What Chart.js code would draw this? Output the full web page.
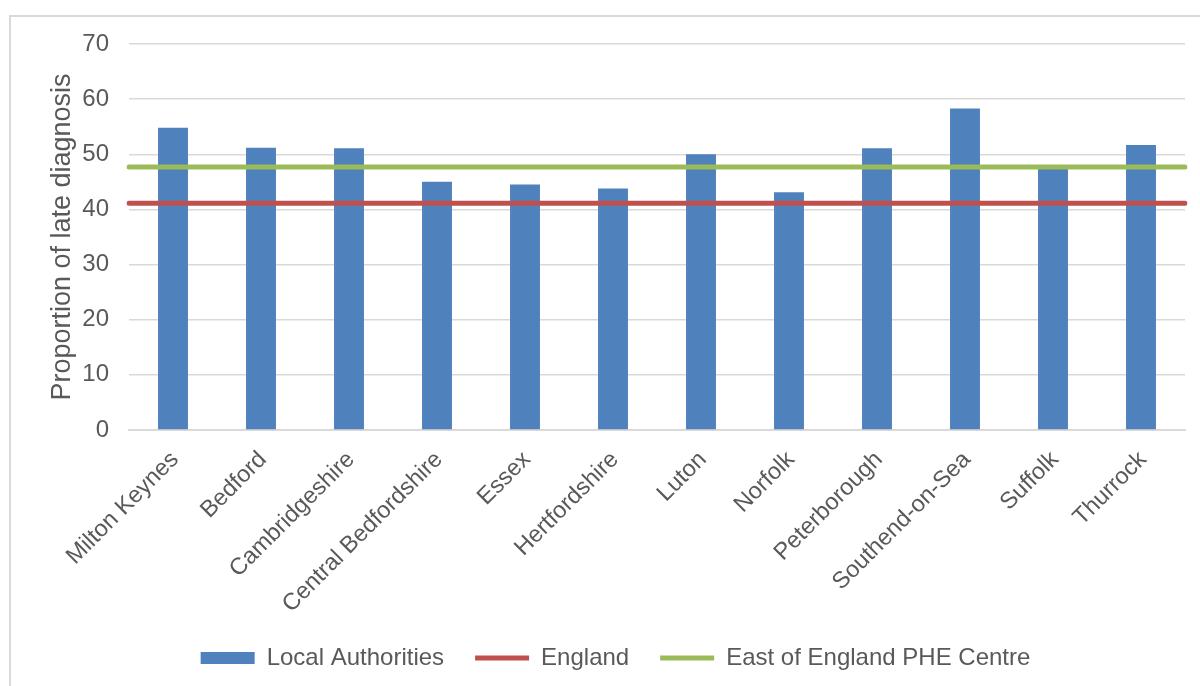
<!DOCTYPE html>
<html>
<head>
<meta charset="utf-8">
<script src="https://cdn.jsdelivr.net/npm/chart.js@4"></script>
<style>
  html, body { margin: 0; padding: 0; background: #fff; overflow: hidden; }
  #wrap { position: relative; width: 1200px; height: 686px; }
  #frame { position: absolute; left: 9px; top: 15px; width: 1300px; height: 800px; border: 2px solid #d9d9d9; box-sizing: border-box; pointer-events: none; }
  canvas { position: absolute; left: 0; top: 0; }
</style>
</head>
<body>
<div id="wrap">
  <canvas id="c" width="1200" height="686"></canvas>
  <div id="frame"></div>
</div>
<script>
const categories = ["Milton Keynes", "Bedford", "Cambridgeshire", "Central Bedfordshire", "Essex", "Hertfordshire", "Luton", "Norfolk", "Peterborough", "Southend-on-Sea", "Suffolk", "Thurrock"];
const localAuthorities = [54.8, 51.2, 51.1, 45.0, 44.5, 43.8, 50.0, 43.1, 51.1, 58.3, 47.7, 51.7];
const englandValue = 41.1;
const eastOfEnglandValue = 47.7;
const england = categories.map(() => englandValue);
const eastOfEngland = categories.map(() => eastOfEnglandValue);
const yTicks = [0, 10, 20, 30, 40, 50, 60, 70];

const textColor = '#595959';
const fontFamily = '"Liberation Sans", Arial, sans-serif';

new Chart(document.getElementById('c'), {
  type: 'bar',
  data: {
    labels: categories,
    datasets: [
      {
        type: 'bar',
        label: 'Local Authorities',
        data: localAuthorities,
        backgroundColor: '#4f81bd',
        borderWidth: 0,
        grouped: false,
        barPercentage: 0.34,
        categoryPercentage: 1.0,
        pointStyle: 'rect',
        order: 2,
        xAxisID: 'x'
      },
      {
        type: 'line',
        label: 'England',
        data: england,
        borderColor: '#c0504d',
        backgroundColor: '#c0504d',
        borderWidth: 5,
        borderCapStyle: 'round',
        pointRadius: 0,
        pointStyle: 'line',
        order: 1,
        xAxisID: 'x2'
      },
      {
        type: 'line',
        label: 'East of England PHE Centre',
        data: eastOfEngland,
        borderColor: '#9bbb59',
        backgroundColor: '#9bbb59',
        borderWidth: 5,
        borderCapStyle: 'round',
        pointRadius: 0,
        pointStyle: 'line',
        order: 0,
        xAxisID: 'x2'
      }
    ]
  },
  options: {
    responsive: false,
    animation: false,
    layout: { padding: { left: 46, top: 44, right: 15, bottom: 6 } },
    plugins: {
      tooltip: { enabled: false },
      legend: {
        position: 'bottom',
        labels: {
          usePointStyle: true,
          pointStyleWidth: 54,
          boxHeight: 12,
          padding: 31,
          color: textColor,
          font: { family: fontFamily, size: 24 },
          sort: (a, b) => a.datasetIndex - b.datasetIndex
        }
      }
    },
    scales: {
      x: {
        type: 'category',
        offset: true,
        grid: { display: false, drawTicks: false },
        border: { display: true, color: '#d9d9d9', width: 2 },
        ticks: {
          autoSkip: false,
          maxRotation: 45,
          minRotation: 45,
          padding: 16,
          labelOffset: 2,
          color: textColor,
          font: { family: fontFamily, size: 23.5 }
        },
        afterFit: (s) => { s.height = 185; }
      },
      x2: {
        type: 'category',
        labels: categories,
        offset: false,
        display: false
      },
      y: {
        min: 0,
        max: 70,
        afterBuildTicks: (s) => { s.ticks = yTicks.map(v => ({ value: v })); },
        grid: { color: '#d9d9d9', lineWidth: 1.5, drawTicks: false },
        border: { display: false },
        ticks: {
          padding: 20,
          color: textColor,
          font: { family: fontFamily, size: 24 }
        },
        title: {
          display: true,
          text: 'Proportion of late diagnosis',
          color: textColor,
          font: { family: fontFamily, size: 27 },
          padding: { top: 0, bottom: 0 }
        },
        afterFit: (s) => { s.width = 83; }
      }
    }
  }
});
</script>
</body>
</html>
